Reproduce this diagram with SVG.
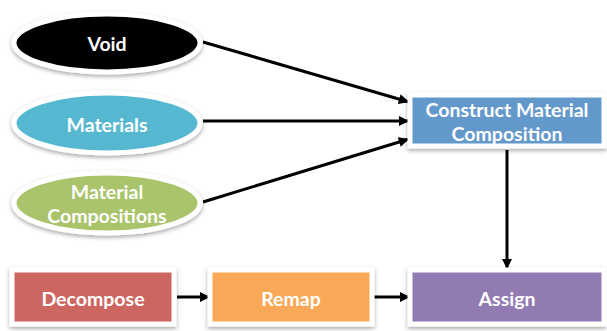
<svg xmlns="http://www.w3.org/2000/svg" width="607" height="331" viewBox="0 0 607 331">
<style>
.n{stroke:#fff;stroke-width:5;filter:url(#sh)}
.t{font-family:Lato,"Open Sans","Liberation Sans",sans-serif;font-weight:bold;font-size:19.5px;fill:#fff;text-anchor:middle;dominant-baseline:central}
.c{stroke:#000;stroke-width:3;fill:none;marker-end:url(#ah)}
</style>
<defs>
<filter id="sh" x="-10%" y="-20%" width="120%" height="150%">
<feDropShadow dx="0" dy="2" stdDeviation="2" flood-color="#000" flood-opacity="0.35"/>
</filter>
<marker id="ah" viewBox="0 0 10 10" refX="10" refY="5" markerWidth="3.6" markerHeight="3.4" orient="auto" markerUnits="strokeWidth">
<path d="M0,0 L10,5 L0,10 z" fill="#000"/>
</marker>
</defs>
<g id="connectors">
<line class="c" x1="203" y1="42" x2="409" y2="102"/>
<line class="c" x1="203" y1="121" x2="409" y2="121"/>
<line class="c" x1="203" y1="202" x2="409" y2="139"/>
<line class="c" x1="507" y1="150" x2="507" y2="269"/>
<line class="c" x1="177" y1="297" x2="210" y2="297"/>
<line class="c" x1="372" y1="297" x2="410" y2="297"/>
</g>
<g id="void">
<ellipse class="n" cx="107" cy="43" rx="93" ry="29" fill="#000"/>
<text class="t" x="107" y="43">Void</text>
</g>
<g id="materials">
<ellipse class="n" cx="107" cy="123" rx="93" ry="30" fill="#57B8D0"/>
<text class="t" x="107" y="124">Materials</text>
</g>
<g id="material-compositions">
<ellipse class="n" cx="107" cy="203" rx="93" ry="30" fill="#A9C46B"/>
<text class="t" x="107" y="191">Material</text>
<text class="t" x="107" y="215">Compositions</text>
</g>
<g id="construct">
<rect class="n" x="410" y="95" width="194" height="51" fill="#6398CB"/>
<text class="t" x="507" y="109">Construct Material</text>
<text class="t" x="507" y="133">Composition</text>
</g>
<g id="decompose">
<rect class="n" x="12" y="270" width="162" height="54" fill="#CD6661"/>
<text class="t" x="93" y="298">Decompose</text>
</g>
<g id="remap">
<rect class="n" x="210" y="270" width="162" height="54" fill="#F8A857"/>
<text class="t" x="291" y="298">Remap</text>
</g>
<g id="assign">
<rect class="n" x="410" y="270" width="194" height="54" fill="#927AB2"/>
<text class="t" x="507" y="298">Assign</text>
</g>
</svg>
